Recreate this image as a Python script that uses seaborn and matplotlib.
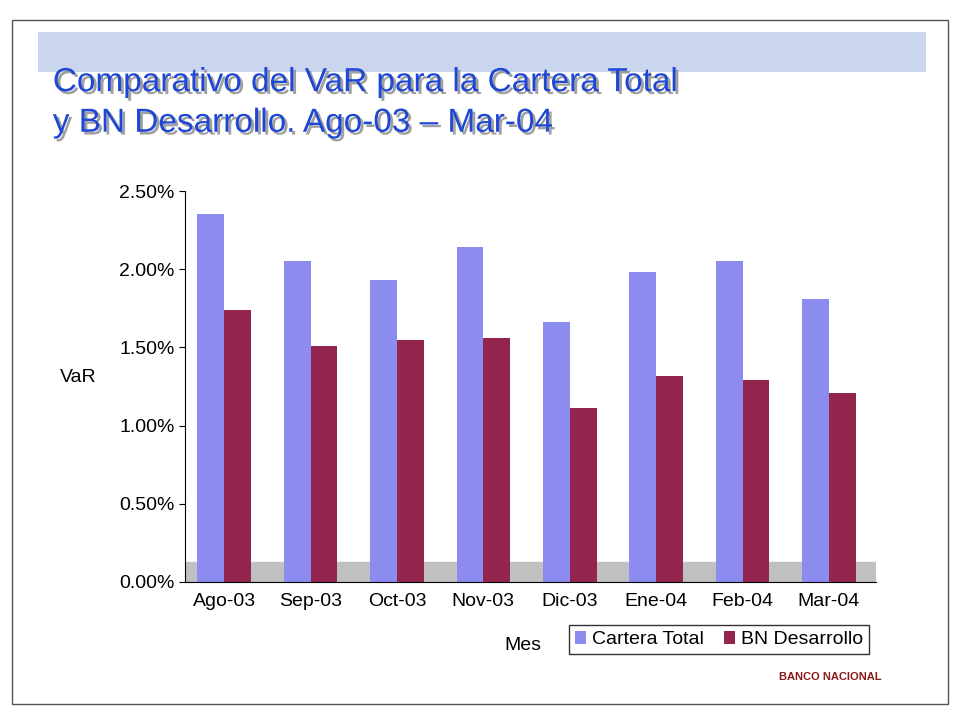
import pandas as pd
import seaborn as sns
import matplotlib.pyplot as plt
import matplotlib.patheffects as pe

plt.rcParams["font.family"] = "Liberation Sans"

# Data
months = ["Ago-03", "Sep-03", "Oct-03", "Nov-03", "Dic-03", "Ene-04", "Feb-04", "Mar-04"]
cartera_total = [2.35, 2.05, 1.93, 2.14, 1.66, 1.98, 2.05, 1.81]
bn_desarrollo = [1.74, 1.51, 1.55, 1.56, 1.11, 1.32, 1.29, 1.21]
series_names = ["Cartera Total", "BN Desarrollo"]
yticks = [0.0, 0.5, 1.0, 1.5, 2.0, 2.5]

df = pd.DataFrame({"Mes": months * 2,
                   "VaR": cartera_total + bn_desarrollo,
                   "Serie": [series_names[0]] * 8 + [series_names[1]] * 8})

fig = plt.figure(figsize=(9.6, 7.2), dpi=100)
fig.patch.set_facecolor("white")

# slide border
border = plt.Rectangle((0.012, 0.022), 0.976, 0.95, transform=fig.transFigure,
                       fill=False, edgecolor="#555555", linewidth=1)
fig.add_artist(border)

# header band
band = plt.Rectangle((0.04, 0.9), 0.925, 0.055, transform=fig.transFigure,
                     facecolor="#c9d6ee", edgecolor="none")
fig.add_artist(band)

fig.text(0.055, 0.857, "Comparativo del VaR para la Cartera Total\ny BN Desarrollo. Ago-03 – Mar-04",
         color="#1f47d6", fontsize=24, ha="left", va="center", linespacing=1.4,
         path_effects=[pe.withSimplePatchShadow(offset=(2, -2), shadow_rgbFace="#888888", alpha=0.8)])

# axes: 0% at y=582px, 2.5% at y=191px
ax = fig.add_axes([0.193, 0.1917, 0.72, 0.543])
palette = {series_names[0]: "#8c8cf0", series_names[1]: "#93254f"}
sns.barplot(data=df, x="Mes", y="VaR", hue="Serie", palette=palette, ax=ax,
            width=0.62, edgecolor="none", saturation=1)

# floor
ax.axhspan(-0.0, 0.13, xmin=0, xmax=1, color="#c0c0c0", zorder=0)
ax.set_ylim(0.0, 2.5)
ax.set_xlim(-0.45, 7.55)
ax.set_yticks(yticks)
ax.set_yticklabels([f"{t:.2f}%" for t in yticks], fontsize=14)
ax.tick_params(axis="x", labelsize=14, length=0, pad=8)
ax.tick_params(axis="y", length=4)
ax.set_ylabel("VaR", fontsize=14, rotation=0, labelpad=30)
ax.set_xlabel("")
for s in ["top", "right"]:
    ax.spines[s].set_visible(False)

fig.text(0.545, 0.103, "Mes", fontsize=14, ha="center", va="center")
ax.legend(loc="upper left", bbox_to_anchor=(0.555, -0.11), ncol=2, frameon=True,
          fancybox=False, edgecolor="black", fontsize=14, handlelength=0.6,
          handletextpad=0.3, columnspacing=1.0, borderaxespad=0, borderpad=0.3)

fig.text(0.865, 0.055, "BANCO NACIONAL", color="#8b1a1a", fontsize=8,
         fontweight="bold", ha="center")

plt.savefig("out.png", dpi=100)
